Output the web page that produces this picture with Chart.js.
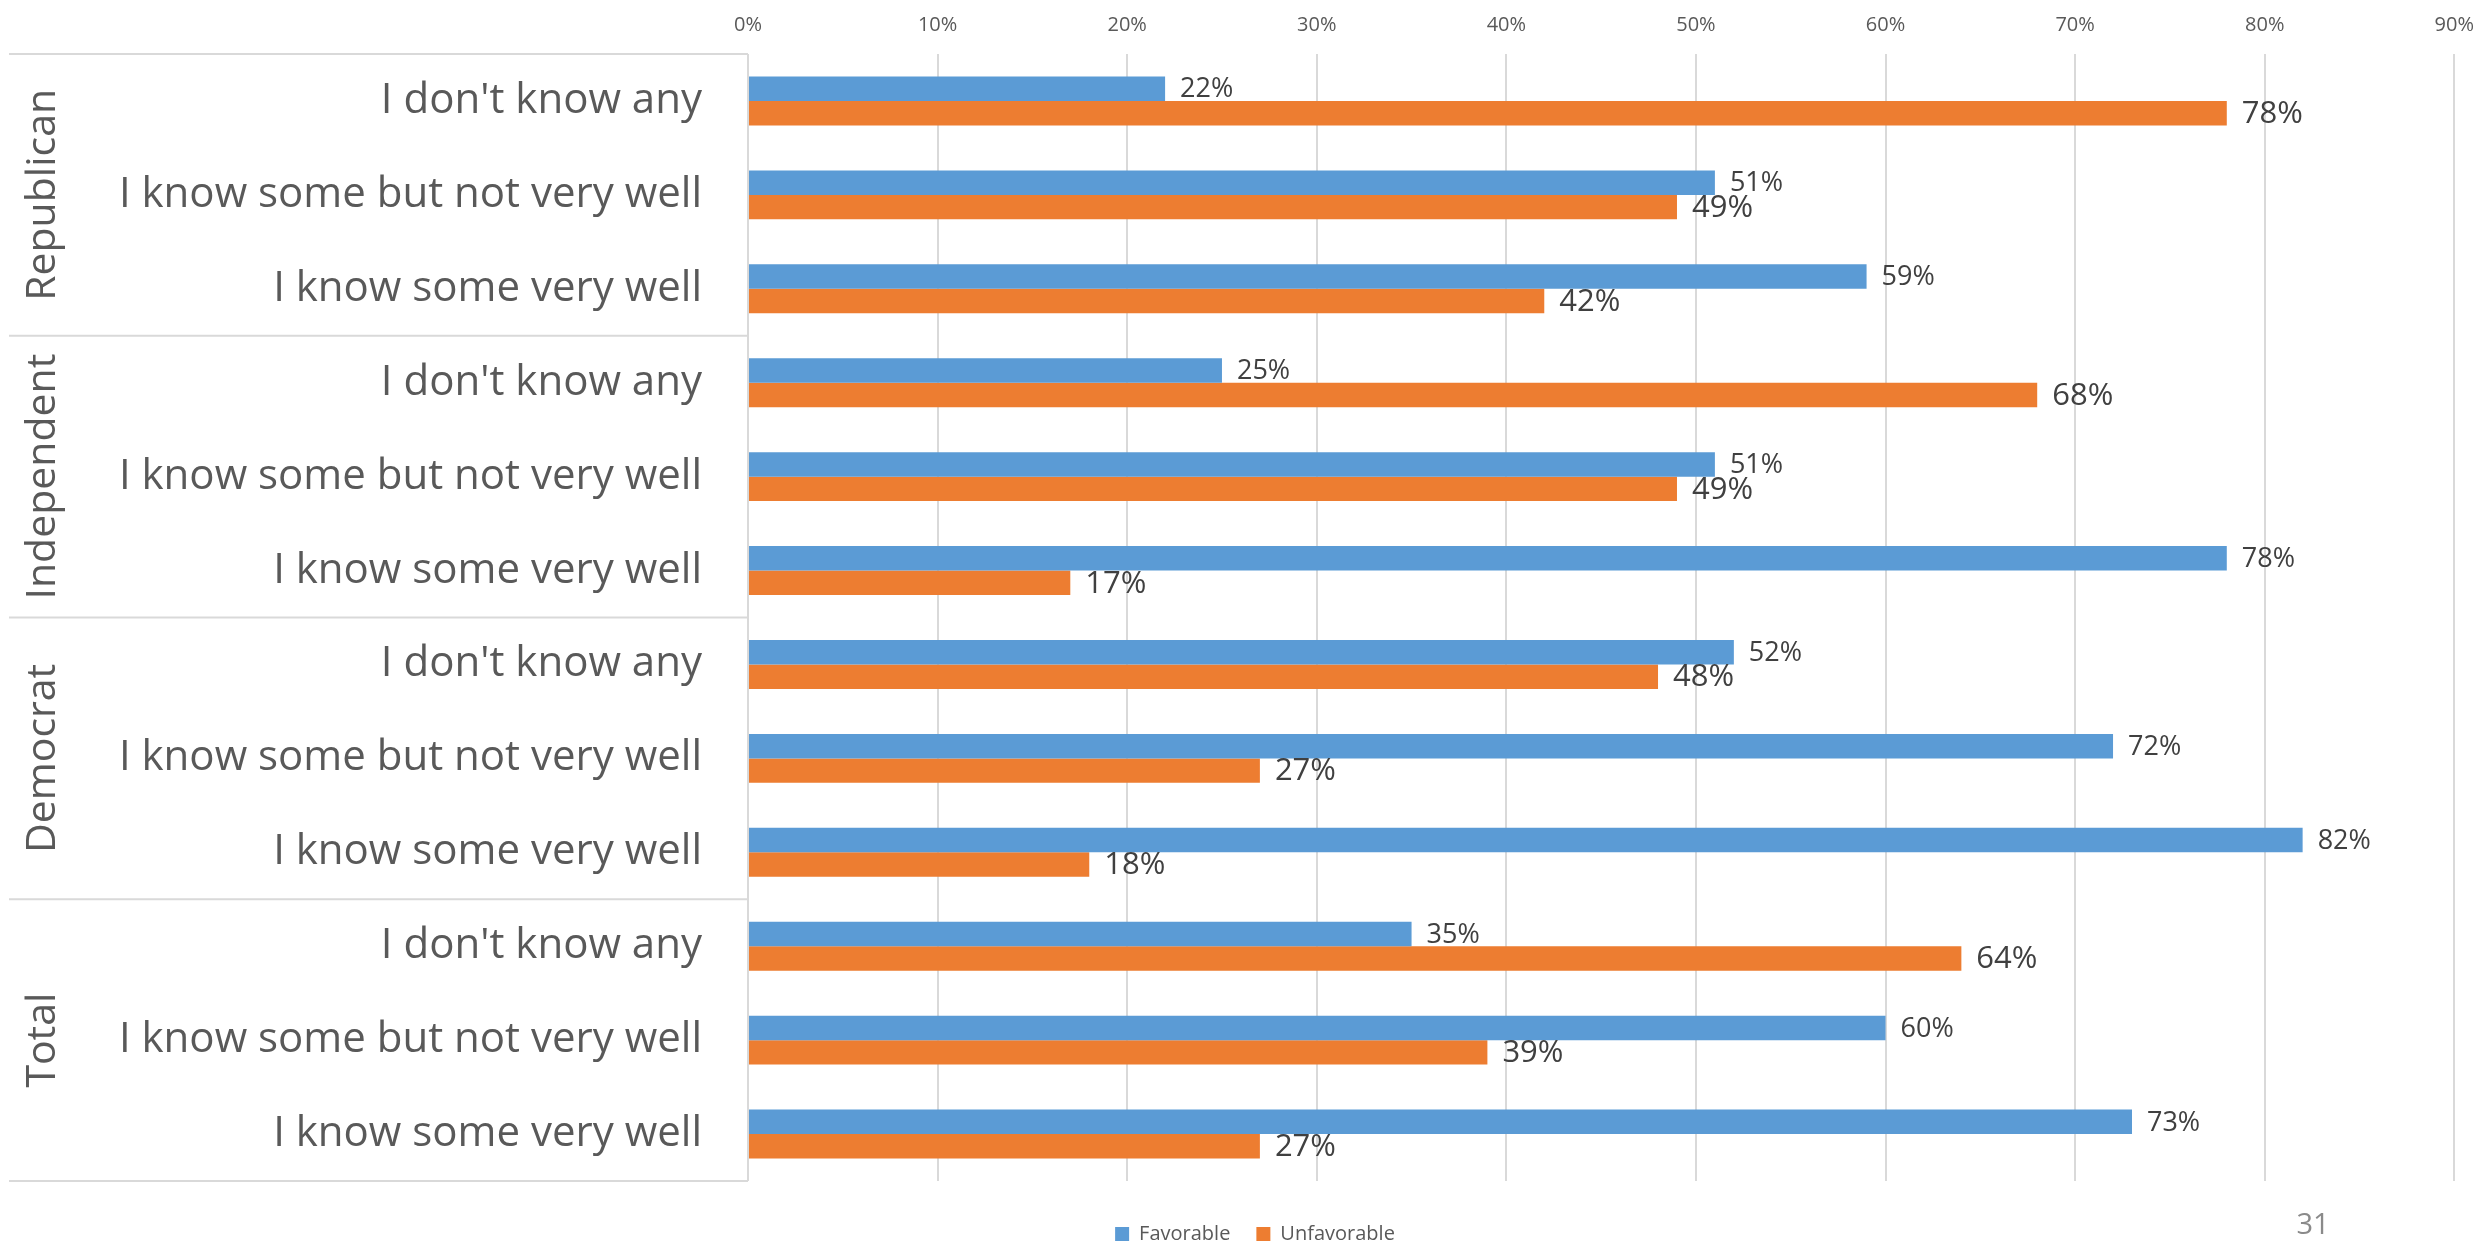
<!DOCTYPE html>
<html>
<head>
<meta charset="utf-8">
<script src="https://cdn.jsdelivr.net/npm/chart.js@4/dist/chart.umd.min.js"></script>
<style>
  html, body { margin: 0; padding: 0; background: #ffffff; }
  #wrap { position: relative; width: 2491px; height: 1244px; }
</style>
</head>
<body>
<div id="wrap"><canvas id="c"></canvas></div>
<script>
// ---- data ----
const groups = ["Republican", "Independent", "Democrat", "Total"];
const rowLabels = ["I don't know any", "I know some but not very well", "I know some very well"];
const categories = [
  "I don't know any", "I know some but not very well", "I know some very well",
  "I don't know any", "I know some but not very well", "I know some very well",
  "I don't know any", "I know some but not very well", "I know some very well",
  "I don't know any", "I know some but not very well", "I know some very well"
];
const favorable   = [22, 51, 59, 25, 51, 78, 52, 72, 82, 35, 60, 73];
const unfavorable = [78, 49, 42, 68, 49, 17, 48, 27, 18, 64, 39, 27];
const seriesNames = ["Favorable", "Unfavorable"];
const axisMin = 0, axisMax = 90, axisStep = 10;
const pageNumber = "31";

Chart.defaults.font.family = "'Open Sans', sans-serif";

const groupTablePlugin = {
  id: 'groupTable',
  afterDraw(chart) {
    const { ctx, chartArea, scales } = chart;
    const y = scales.y;
    const n = categories.length;
    const step = y.getPixelForValue(1) - y.getPixelForValue(0);
    const perGroup = n / groups.length;
    ctx.save();
    ctx.strokeStyle = '#d9d9d9';
    ctx.lineWidth = 2;
    for (let g = 0; g <= groups.length; g++) {
      const idx = Math.min(g * perGroup, n - 1);
      const yy = y.getPixelForValue(idx) + (g * perGroup >= n ? step / 2 : -step / 2);
      ctx.beginPath();
      ctx.moveTo(9, yy);
      ctx.lineTo(chartArea.left, yy);
      ctx.stroke();
    }
    ctx.fillStyle = '#595959';
    ctx.font = "41px 'Open Sans', sans-serif";
    ctx.textAlign = 'center';
    ctx.textBaseline = 'middle';
    groups.forEach((name, g) => {
      const a = y.getPixelForValue(g * perGroup);
      const b = y.getPixelForValue(g * perGroup + perGroup - 1);
      const cy = (a + b) / 2;
      ctx.save();
      ctx.translate(43, cy);
      ctx.rotate(-Math.PI / 2);
      ctx.fillText(name, 0, 0);
      ctx.restore();
    });
    // page number
    ctx.fillStyle = '#8a8a8a';
    ctx.font = "29px 'Open Sans', sans-serif";
    ctx.textAlign = 'center';
    ctx.fillText(pageNumber, 2313, 1226);
    ctx.restore();
  }
};

const valueLabelPlugin = {
  id: 'valueLabels',
  afterDatasetsDraw(chart) {
    const { ctx } = chart;
    const sizes = [27, 31];
    ctx.save();
    ctx.fillStyle = '#404040';
    ctx.textAlign = 'left';
    ctx.textBaseline = 'middle';
    chart.data.datasets.forEach((ds, di) => {
      const meta = chart.getDatasetMeta(di);
      ctx.font = sizes[di] + "px 'Open Sans', sans-serif";
      meta.data.forEach((bar, i) => {
        ctx.fillText(Math.round(ds.data[i]) + '%', bar.x + 15, bar.y + 1);
      });
    });
    ctx.restore();
  }
};

const noPad = () => ({ left: 0, top: 0, right: 0, bottom: 0 });

new Chart(document.getElementById('c'), {
  type: 'bar',
  data: {
    labels: categories,
    datasets: [
      { label: seriesNames[0], data: favorable, backgroundColor: '#5b9bd5', borderWidth: 0 },
      { label: seriesNames[1], data: unfavorable, backgroundColor: '#ed7d31', borderWidth: 0 }
    ]
  },
  options: {
    indexAxis: 'y',
    responsive: true,
    maintainAspectRatio: false,
    animation: false,
    layout: { padding: { top: 10, right: 33, bottom: 0, left: 52 } },
    datasets: { bar: { categoryPercentage: 0.52, barPercentage: 1.0 } },
    scales: {
      x: {
        position: 'top',
        min: axisMin,
        max: axisMax,
        afterFit(scale) {
          scale.height = 44;
          scale.paddingTop = 0;
          scale.paddingBottom = 0;
        },
        ticks: {
          stepSize: axisStep,
          color: '#595959',
          font: { size: 20 },
          padding: 17,
          callback: v => v + '%'
        },
        grid: { color: '#d9d9d9', lineWidth: 2, drawTicks: false },
        border: { display: false }
      },
      y: {
        afterFit(scale) {
          scale.width = 696;
          scale.paddingTop = 0;
          scale.paddingBottom = 0;
          scale.getPadding = noPad;
        },
        ticks: {
          color: '#595959',
          font: { size: 42 },
          padding: 46,
          autoSkip: false
        },
        grid: { display: false, drawTicks: false },
        border: { display: false }
      }
    },
    plugins: {
      tooltip: { enabled: false },
      legend: {
        position: 'bottom',
        maxHeight: 63,
        title: { display: true, text: '', font: { size: 10, lineHeight: 1.2 }, padding: { top: 5, bottom: 0 } },
        labels: {
          color: '#595959',
          font: { size: 20 },
          boxWidth: 14,
          boxHeight: 14,
          padding: 26
        }
      }
    }
  },
  plugins: [groupTablePlugin, valueLabelPlugin]
});
</script>
</body>
</html>
